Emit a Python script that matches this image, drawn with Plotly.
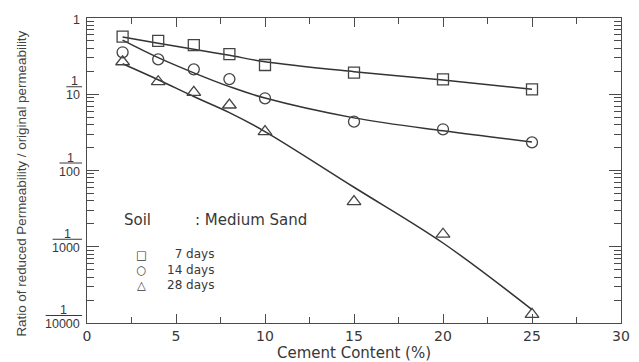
import math
import plotly.graph_objects as go

# ---------------- data ----------------
cement = [2, 4, 6, 8, 10, 15, 20, 25]
ratio_7 = [0.57, 0.50, 0.44, 0.335, 0.242, 0.192, 0.157, 0.116]
ratio_14 = [0.355, 0.287, 0.212, 0.158, 0.0885, 0.0437, 0.0347, 0.0234]
ratio_28 = [0.267, 0.146, 0.106, 0.0723, 0.0323, 0.0039, 0.00146, 0.00013]

fit_x = [2, 4, 6, 8, 10, 15, 20, 25]
fit_7 = [0.562, 0.468, 0.389, 0.324, 0.267, 0.198, 0.154, 0.116]
fit_14 = [0.513, 0.302, 0.191, 0.126, 0.0891, 0.049, 0.0331, 0.0237]
fit_28 = [0.251, 0.155, 0.0933, 0.0575, 0.0324, 0.00603, 0.00112, 0.000150]

x_ticks = [0, 5, 10, 15, 20, 25, 30]
y_frac_vals = [1e-1, 1e-2, 1e-3, 1e-4]
y_frac_den = ["10", "100", "1000", "10000"]
legend_labels = ["\u00a0\u00a07 days", "14 days", "28 days"]
legend_symbols = ["\u25a1", "\u25cb", "\u25b3"]
soil_label = "Soil"
soil_value = ": Medium Sand"
x_title = "Cement Content (%)"
y_title = "Ratio of reduced Permeability / original permeability"

# ---------------- styling ----------------
W, H = 639, 362
ML, MR, MT, MB = 87, 9, 18, 39
PW, PH = W - ML - MR, H - MT - MB
INK = "#383838"
AX = "#4a4a4a"
HFONT = "DejaVu Sans"
VFONT = "Liberation Sans"
Y_LO, Y_HI = -4, 0


def px_x(p):
    return (p - ML) / PW


def px_y(p):
    return (H - MB - p) / PH


def log_to_paper(lv):
    return (lv - Y_LO) / (Y_HI - Y_LO)


fig = go.Figure()

# fitted curves
for fy in (fit_7, fit_14, fit_28):
    fig.add_trace(go.Scatter(x=fit_x, y=fy, mode="lines",
                             line=dict(color="#333333", width=1.5, shape="spline", smoothing=1.0),
                             hoverinfo="skip", showlegend=False))

# measured points
for ry, sym, sz in ((ratio_7, "square-open", 11), (ratio_14, "circle-open", 11),
                    (ratio_28, "triangle-up-open", 12)):
    fig.add_trace(go.Scatter(x=cement, y=ry, mode="markers",
                             marker=dict(symbol=sym, size=sz, color="#444444",
                                         line=dict(color="#444444", width=1.3)),
                             showlegend=False))

fig.update_xaxes(range=[0, 30], tickvals=x_ticks, ticks="inside", ticklen=9, tickwidth=1.2,
                 tickcolor=AX, showline=True, linecolor=AX, linewidth=1.2, mirror="ticks",
                 showgrid=False, zeroline=False,
                 minor=dict(tickvals=[t + 2.5 for t in x_ticks[:-1]], ticks="inside",
                            ticklen=6, tickwidth=1.1, tickcolor=AX, showgrid=False),
                 tickfont=dict(family=HFONT, size=14, color=INK))

minor_y = [k * 10 ** e for e in range(Y_LO, Y_HI) for k in range(2, 10)]
fig.update_yaxes(type="log", range=[Y_LO, Y_HI], tickvals=[10 ** e for e in range(Y_LO, Y_HI + 1)],
                 showticklabels=False, ticks="inside", ticklen=12, tickwidth=1.2,
                 tickcolor=AX, showline=True, linecolor=AX, linewidth=1.2, mirror="ticks",
                 showgrid=False, zeroline=False,
                 minor=dict(tickvals=minor_y, ticks="inside", ticklen=7, tickwidth=1.0,
                            tickcolor=AX, showgrid=False))

annotations = []
shapes = []
FS = 12.5
# y tick labels as fractions
annotations.append(dict(xref="paper", yref="y", x=0, y=0, text="1", showarrow=False,
                        xanchor="right", yanchor="middle", xshift=-5, yshift=-2,
                        font=dict(family=VFONT, size=FS, color=INK)))
for v, den in zip(y_frac_vals, y_frac_den):
    lv = math.log10(v)
    bw = 7 * len(den) + 2
    annotations.append(dict(xref="paper", yref="y", x=0, y=lv, text=den, showarrow=False,
                            xanchor="right", yanchor="middle", xshift=-5, yshift=-1,
                            font=dict(family=VFONT, size=FS, color=INK)))
    annotations.append(dict(xref="paper", yref="y", x=0, y=lv, text="1", showarrow=False,
                            xanchor="center", yanchor="middle", xshift=-5 - bw / 2, yshift=13,
                            font=dict(family=VFONT, size=FS, color=INK)))
    yb = log_to_paper(lv) + 7.5 / PH
    shapes.append(dict(type="line", xref="paper", yref="paper",
                       x0=(-5 - bw) / PW, x1=-5 / PW, y0=yb, y1=yb,
                       line=dict(color=INK, width=1)))

# axis titles
annotations.append(dict(xref="paper", yref="paper", x=0.5, y=px_y(353), text=x_title,
                        showarrow=False, xanchor="center", yanchor="middle",
                        font=dict(family=HFONT, size=15, color=INK)))
annotations.append(dict(xref="paper", yref="paper", x=px_x(20), y=px_y(183.5), text=y_title,
                        showarrow=False, xanchor="center", yanchor="middle", textangle=-90,
                        font=dict(family=VFONT, size=13.4, color="#444444")))

# soil note
annotations.append(dict(xref="paper", yref="paper", x=px_x(123), y=px_y(220), text=soil_label,
                        showarrow=False, xanchor="left", yanchor="middle",
                        font=dict(family=HFONT, size=15, color=INK)))
annotations.append(dict(xref="paper", yref="paper", x=px_x(195), y=px_y(220), text=soil_value,
                        showarrow=False, xanchor="left", yanchor="middle",
                        font=dict(family=HFONT, size=15, color=INK)))

# legend block (one multi-line text per column)
annotations.append(dict(xref="paper", yref="paper", x=px_x(142), y=px_y(269.5),
                        text="<br>".join(legend_symbols), showarrow=False,
                        xanchor="center", yanchor="middle", align="center",
                        font=dict(family=HFONT, size=11.5, color=INK)))
annotations.append(dict(xref="paper", yref="paper", x=px_x(166), y=px_y(269.5),
                        text="<br>".join(legend_labels), showarrow=False,
                        xanchor="left", yanchor="middle", align="left",
                        font=dict(family=HFONT, size=12, color=INK)))

fig.update_layout(width=W, height=H, margin=dict(l=ML, r=MR, t=MT, b=MB, pad=0),
                  paper_bgcolor="white", plot_bgcolor="white", showlegend=False,
                  annotations=annotations, shapes=shapes)

fig.write_html("out.html")
